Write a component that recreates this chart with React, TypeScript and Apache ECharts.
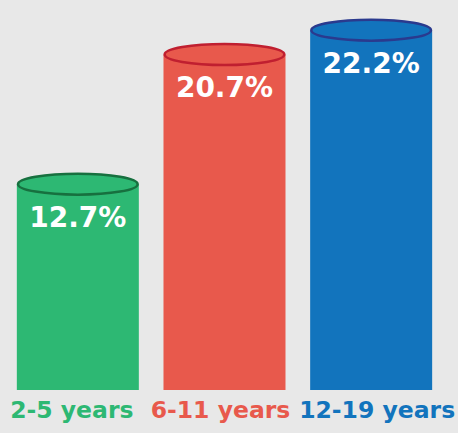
import React, { useEffect, useRef } from "react";
import * as echarts from "echarts";

const categories = ["2-5 years", "6-11 years", "12-19 years"];
const values = [12.7, 20.7, 22.2];
const barColors = ["#2db873", "#e8594c", "#1274bd"];
const rimColors = ["#17703f", "#c01f30", "#2a3a8e"];
const labelShift = [-6, -4, 6];

export default function App() {
  const ref = useRef<HTMLDivElement>(null);
  useEffect(() => {
    const chart = echarts.init(ref.current!, null, { renderer: "svg" });
    const rich: any = {};
    categories.forEach((c, i) => {
      const s = labelShift[i];
      rich["c" + i] = {
        color: barColors[i],
        fontFamily: "DejaVu Sans",
        fontWeight: "bold",
        fontSize: 23.5,
        padding: s < 0 ? [0, -2 * s, 0, 0] : [0, 0, 0, 2 * s],
      };
    });
    chart.setOption({
      animation: false,
      backgroundColor: "#e8e8e8",
      grid: { left: 4.5, right: 12.5, top: 1, bottom: 43, containLabel: false },
      xAxis: {
        type: "category",
        data: categories,
        axisLine: { show: false },
        axisTick: { show: false },
        axisLabel: {
          margin: 8,
          verticalAlign: "top",
          interval: 0,
          formatter: (v: string) => {
            const i = categories.indexOf(v);
            return "{c" + i + "|" + v + "}";
          },
          rich,
        },
      },
      yAxis: { type: "value", min: 0, max: 24, show: false, splitLine: { show: false } },
      series: [
        {
          type: "custom",
          data: values.map((v, i) => [i, v]),
          renderItem: (params: any, api: any) => {
            const i = api.value(0);
            const v = api.value(1);
            const top = api.coord([i, v]);
            const bottom = api.coord([i, 0]);
            const w = 122;
            return {
              type: "group",
              children: [
                {
                  type: "rect",
                  shape: { x: top[0] - w / 2, y: top[1], width: w, height: bottom[1] - top[1] },
                  style: { fill: barColors[i] },
                },
                {
                  type: "ellipse",
                  shape: { cx: top[0], cy: top[1], rx: w / 2 - 1.2, ry: 10.5 },
                  style: { fill: barColors[i], stroke: rimColors[i], lineWidth: 2.5 },
                },
                {
                  type: "text",
                  style: {
                    text: v.toFixed(1) + "%",
                    x: top[0],
                    y: top[1] + 33,
                    align: "center",
                    verticalAlign: "middle",
                    fill: "#ffffff",
                    fontFamily: "DejaVu Sans",
                    fontWeight: "bold",
                    fontSize: 28,
                  },
                },
              ],
            };
          },
        },
      ],
    });
    return () => chart.dispose();
  }, []);
  return (
    <div
      ref={ref}
      style={{ position: "fixed", left: 0, top: 0, width: 458, height: 433 }}
    />
  );
}
